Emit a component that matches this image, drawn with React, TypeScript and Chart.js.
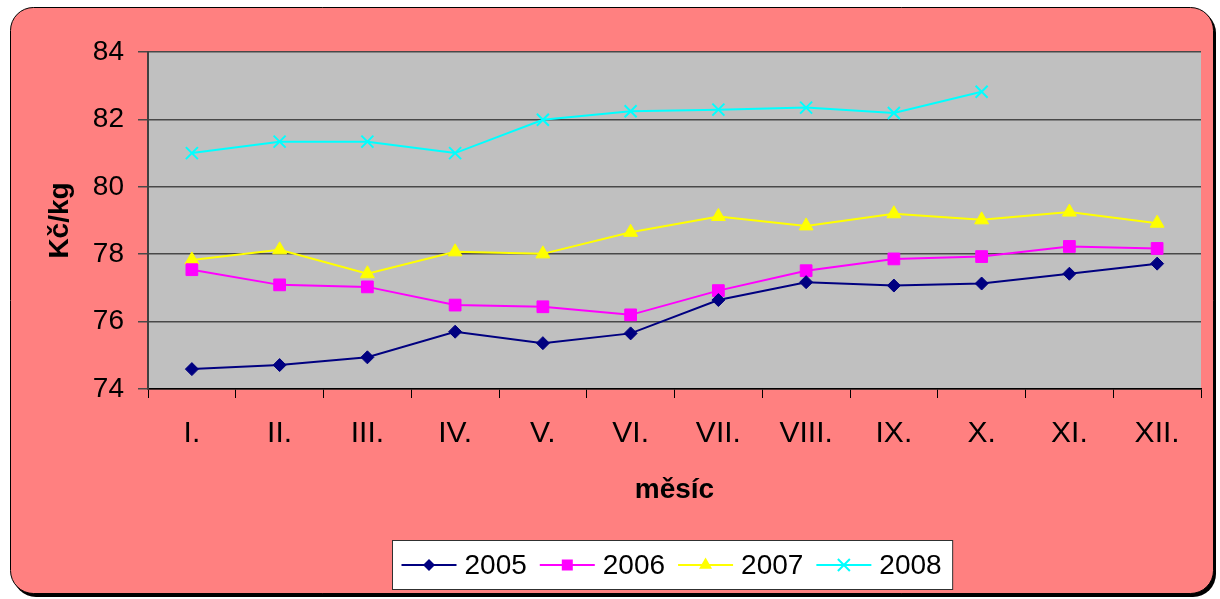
import React, { useEffect, useRef } from 'react';
import { Chart, registerables } from 'chart.js';

Chart.register(...registerables);

const months = ['I.', 'II.', 'III.', 'IV.', 'V.', 'VI.', 'VII.', 'VIII.', 'IX.', 'X.', 'XI.', 'XII.'];
const y2005 = [74.59, 74.71, 74.94, 75.7, 75.36, 75.65, 76.64, 77.17, 77.07, 77.13, 77.42, 77.72];
const y2006 = [77.54, 77.09, 77.03, 76.49, 76.44, 76.2, 76.92, 77.51, 77.86, 77.93, 78.23, 78.17];
const y2007 = [77.83, 78.13, 77.42, 78.07, 78.01, 78.65, 79.12, 78.84, 79.2, 79.02, 79.25, 78.92];
const y2008 = [81.0, 81.34, 81.34, 81.0, 81.99, 82.24, 82.29, 82.35, 82.19, 82.82, null, null];
const seriesLabels = ['2005', '2006', '2007', '2008'];
const seriesColors = ['#000080', '#FF00FF', '#FFFF00', '#00FFFF'];
const seriesStyles = ['rectRot', 'rect', 'triangle', 'crossRot'];
const seriesRadius = [6.5, 8.3, 8, 8.5];

const FONT = "'Liberation Sans', Arial, sans-serif";
const NARROW = "'Liberation Sans Narrow', 'Liberation Sans', Arial, sans-serif";

function drawMarker(ctx: CanvasRenderingContext2D, style: string, x: number, y: number, color: string) {
  ctx.save();
  ctx.fillStyle = color;
  ctx.strokeStyle = color;
  ctx.lineWidth = 2;
  ctx.beginPath();
  if (style === 'rectRot') {
    const r = 6;
    ctx.moveTo(x, y - r); ctx.lineTo(x + r, y); ctx.lineTo(x, y + r); ctx.lineTo(x - r, y); ctx.closePath(); ctx.fill();
  } else if (style === 'rect') {
    const s = 5.5;
    ctx.rect(x - s, y - s, 2 * s, 2 * s); ctx.fill();
  } else if (style === 'triangle') {
    const r = 7.5;
    ctx.moveTo(x, y - r); ctx.lineTo(x + r * 0.866, y + r * 0.5); ctx.lineTo(x - r * 0.866, y + r * 0.5); ctx.closePath(); ctx.fill();
  } else {
    const d = 6;
    ctx.moveTo(x - d, y - d); ctx.lineTo(x + d, y + d); ctx.moveTo(x + d, y - d); ctx.lineTo(x - d, y + d); ctx.stroke();
  }
  ctx.restore();
}

function roundRect(ctx: CanvasRenderingContext2D, x: number, y: number, w: number, h: number, r: number) {
  ctx.beginPath();
  ctx.moveTo(x + r, y);
  ctx.lineTo(x + w - r, y);
  ctx.arcTo(x + w, y, x + w, y + r, r);
  ctx.lineTo(x + w, y + h - r);
  ctx.arcTo(x + w, y + h, x + w - r, y + h, r);
  ctx.lineTo(x + r, y + h);
  ctx.arcTo(x, y + h, x, y + h - r, r);
  ctx.lineTo(x, y + r);
  ctx.arcTo(x, y, x + r, y, r);
  ctx.closePath();
}

const bgPlugin = {
  id: 'bgPlugin',
  beforeDraw(chart: any) {
    const ctx = chart.ctx as CanvasRenderingContext2D;
    ctx.save();
    roundRect(ctx, 13, 10, 1203, 587, 23);
    ctx.fillStyle = '#000000';
    ctx.fill();
    roundRect(ctx, 10.5, 7.5, 1203, 586, 23);
    ctx.fillStyle = '#FF8080';
    ctx.fill();
    ctx.lineWidth = 1;
    ctx.strokeStyle = '#000000';
    ctx.stroke();
    const a = chart.chartArea;
    ctx.fillStyle = '#C0C0C0';
    ctx.fillRect(a.left, a.top, a.right - a.left, a.bottom - a.top);
    ctx.restore();
  },
  afterDraw(chart: any) {
    const ctx = chart.ctx as CanvasRenderingContext2D;
    const a = chart.chartArea;
    ctx.save();
    ctx.font = `28px ${FONT}`;
    const lineLen = 55, gapLT = 8, gapItems = 13, padL = 9, padR = 11;
    const ds = chart.data.datasets;
    const widths = ds.map((d: any) => ctx.measureText(d.label).width);
    let total = padL + padR + gapItems * (ds.length - 1);
    widths.forEach((w: number) => { total += lineLen + gapLT + w; });
    const cx = (a.left + a.right) / 2 - 2;
    const left = Math.round(cx - total / 2) + 0.5;
    const top = 540.5, h = 49;
    ctx.fillStyle = '#FFFFFF';
    ctx.fillRect(left, top, total, h);
    ctx.strokeStyle = '#303030';
    ctx.lineWidth = 1;
    ctx.strokeRect(left, top, total, h);
    let x = left + padL;
    const cy = top + h / 2;
    ds.forEach((d: any, i: number) => {
      ctx.strokeStyle = d.borderColor;
      ctx.lineWidth = 2;
      ctx.beginPath();
      ctx.moveTo(x, cy);
      ctx.lineTo(x + lineLen, cy);
      ctx.stroke();
      drawMarker(ctx, seriesStyles[i], x + lineLen / 2, cy, d.borderColor);
      x += lineLen + gapLT;
      ctx.fillStyle = '#000000';
      ctx.textBaseline = 'middle';
      ctx.textAlign = 'left';
      ctx.fillText(d.label, x, cy + 1);
      x += widths[i] + gapItems;
    });
    ctx.restore();
  },
};

export default function App() {
  const ref = useRef<HTMLCanvasElement | null>(null);
  useEffect(() => {
    if (!ref.current) return;
    const seriesData = [y2005, y2006, y2007, y2008];
    const chart = new Chart(ref.current, {
      type: 'line',
      data: {
        labels: months,
        datasets: seriesData.map((d, i) => ({
          label: seriesLabels[i],
          data: d,
          borderColor: seriesColors[i],
          backgroundColor: seriesColors[i],
          pointBackgroundColor: seriesColors[i],
          pointBorderColor: seriesColors[i],
          pointStyle: seriesStyles[i] as any,
          pointRadius: seriesRadius[i],
          pointBorderWidth: i === 3 ? 2 : 1,
          borderWidth: 2,
          tension: 0,
          fill: false,
          spanGaps: false,
        })),
      },
      options: {
        responsive: false,
        animation: false,
        devicePixelRatio: 1,
        layout: { padding: { left: 10, right: 19, top: 52, bottom: 80 } },
        plugins: {
          legend: { display: false },
          tooltip: { enabled: false },
          title: { display: false },
        },
        scales: {
          x: {
            type: 'category',
            offset: true,
            afterFit: (s: any) => { s.height = 130; },
            grid: {
              offset: true,
              drawOnChartArea: false,
              drawTicks: true,
              tickLength: 9,
              color: '#000000',
              lineWidth: 1,
            },
            border: { display: true, color: '#000000', width: 1.5 },
            ticks: {
              color: '#000000',
              font: { family: NARROW, size: 30 },
              padding: 18,
              autoSkip: false,
              maxRotation: 0,
            },
            title: {
              display: true,
              text: 'měsíc',
              color: '#000000',
              font: { family: FONT, size: 28, weight: 'bold' },
              padding: { top: 0, bottom: 12 },
            },
          },
          y: {
            min: 74,
            max: 84,
            afterFit: (s: any) => { s.width = 138; },
            ticks: {
              stepSize: 2,
              color: '#000000',
              font: { family: FONT, size: 28 },
              padding: 14,
            },
            grid: {
              color: '#484848',
              lineWidth: 1.5,
              tickLength: 10,
              drawTicks: true,
            },
            border: { display: true, color: '#404040', width: 2 },
            title: {
              display: true,
              text: 'Kč/kg',
              color: '#000000',
              font: { family: FONT, size: 28, weight: 'bold' },
              padding: { top: 33, bottom: 0 },
            },
          },
        },
      },
      plugins: [bgPlugin],
    });
    return () => chart.destroy();
  }, []);
  return (
    <div style={{ position: 'absolute', left: 0, top: 0, width: 1220, height: 599, background: '#FFFFFF' }}>
      <canvas ref={ref} width={1220} height={599} style={{ width: 1220, height: 599, display: 'block' }} />
    </div>
  );
}
